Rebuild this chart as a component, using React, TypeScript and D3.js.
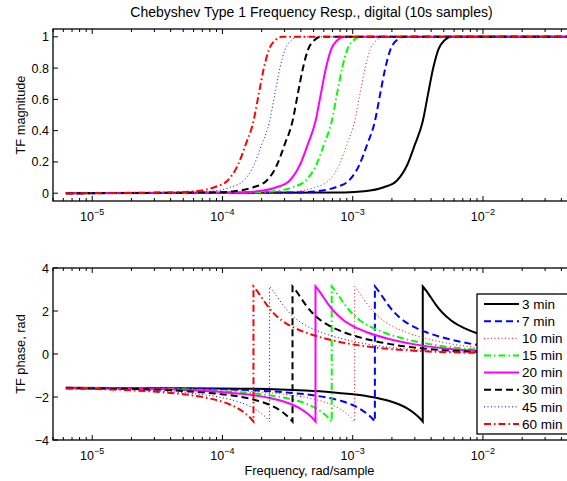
import React from 'react';
import * as d3 from 'd3';

type P = [number, number];

// Legend labels
const seriesNames = ['3 min', '7 min', '10 min', '15 min', '20 min', '30 min', '45 min', '60 min'];

// Magnitude curves: [frequency rad/sample, |H|]
const mag3: P[] = [[6.28e-6, 0], [8.66e-4, 0.005], [1.225e-3, 0.012], [1.73e-3, 0.038], [2.18e-3, 0.08], [2.62e-3, 0.18], [3.0e-3, 0.31], [3.45e-3, 0.46], [3.78e-3, 0.63], [4.15e-3, 0.8], [4.55e-3, 0.92], [5.1e-3, 0.98], [5.73e-3, 1.0], [5e-2, 1.0]];
const mag7: P[] = [[6.28e-6, 0], [3.71e-4, 0.005], [5.25e-4, 0.012], [7.41e-4, 0.038], [9.34e-4, 0.08], [1.123e-3, 0.18], [1.289e-3, 0.31], [1.48e-3, 0.46], [1.622e-3, 0.63], [1.779e-3, 0.8], [1.951e-3, 0.92], [2.19e-3, 0.98], [2.46e-3, 1.0], [5e-2, 1.0]];
const mag10: P[] = [[6.28e-6, 0], [2.6e-4, 0.005], [3.67e-4, 0.012], [5.19e-4, 0.038], [6.53e-4, 0.08], [7.86e-4, 0.18], [9.01e-4, 0.31], [1.035e-3, 0.46], [1.134e-3, 0.63], [1.244e-3, 0.8], [1.364e-3, 0.92], [1.531e-3, 0.98], [1.718e-3, 1.0], [5e-2, 1.0]];
const mag15: P[] = [[6.28e-6, 0], [1.73e-4, 0.005], [2.45e-4, 0.012], [3.46e-4, 0.038], [4.35e-4, 0.08], [5.24e-4, 0.18], [6.01e-4, 0.31], [6.9e-4, 0.46], [7.56e-4, 0.63], [8.29e-4, 0.8], [9.09e-4, 0.92], [1.021e-3, 0.98], [1.145e-3, 1.0], [5e-2, 1.0]];
const mag20: P[] = [[6.28e-6, 0], [1.3e-4, 0.005], [1.84e-4, 0.012], [2.6e-4, 0.038], [3.27e-4, 0.08], [3.93e-4, 0.18], [4.51e-4, 0.31], [5.18e-4, 0.46], [5.68e-4, 0.63], [6.23e-4, 0.8], [6.83e-4, 0.92], [7.66e-4, 0.98], [8.6e-4, 1.0], [5e-2, 1.0]];
const mag30: P[] = [[6.28e-6, 0], [8.66e-5, 0.005], [1.225e-4, 0.012], [1.73e-4, 0.038], [2.18e-4, 0.08], [2.62e-4, 0.18], [3.0e-4, 0.31], [3.45e-4, 0.46], [3.78e-4, 0.63], [4.15e-4, 0.8], [4.55e-4, 0.92], [5.1e-4, 0.98], [5.73e-4, 1.0], [5e-2, 1.0]];
const mag45: P[] = [[6.28e-6, 0], [5.77e-5, 0.005], [8.17e-5, 0.012], [1.152e-4, 0.038], [1.451e-4, 0.08], [1.746e-4, 0.18], [2.0e-4, 0.31], [2.3e-4, 0.46], [2.52e-4, 0.63], [2.76e-4, 0.8], [3.03e-4, 0.92], [3.4e-4, 0.98], [3.82e-4, 1.0], [5e-2, 1.0]];
const mag60: P[] = [[6.28e-6, 0], [4.34e-5, 0.005], [6.14e-5, 0.012], [8.67e-5, 0.038], [1.092e-4, 0.08], [1.313e-4, 0.18], [1.507e-4, 0.31], [1.73e-4, 0.46], [1.896e-4, 0.63], [2.08e-4, 0.8], [2.28e-4, 0.92], [2.56e-4, 0.98], [2.87e-4, 1.0], [5e-2, 1.0]];

// Phase curves (wrapped, rad): [frequency rad/sample, phase]
const ph3: P[] = [[6.28e-6, -1.573], [8.66e-5, -1.6], [2.18e-4, -1.63], [4.34e-4, -1.7], [6.88e-4, -1.78], [1.091e-3, -1.9], [1.541e-3, -2.05], [1.94e-3, -2.2], [2.28e-3, -2.35], [2.62e-3, -2.53], [3.0e-3, -2.78], [3.29e-3, -3.0], [3.45e-3, -3.14],
  [3.45e-3, 3.14], [3.7e-3, 2.91], [3.96e-3, 2.65], [4.34e-3, 2.3], [4.87e-3, 1.93], [5.73e-3, 1.55], [6.88e-3, 1.26], [8.67e-3, 1.0], [1.224e-2, 0.72], [1.94e-2, 0.46], [3.45e-2, 0.26], [5e-2, 0.19]];
const ph7: P[] = [[6.28e-6, -1.575], [3.71e-5, -1.6], [9.34e-5, -1.63], [1.863e-4, -1.7], [2.95e-4, -1.78], [4.68e-4, -1.9], [6.61e-4, -2.05], [8.32e-4, -2.2], [9.78e-4, -2.35], [1.123e-3, -2.53], [1.289e-3, -2.78], [1.413e-3, -3.0], [1.48e-3, -3.14],
  [1.48e-3, 3.14], [1.586e-3, 2.91], [1.699e-3, 2.65], [1.863e-3, 2.3], [2.09e-3, 1.93], [2.46e-3, 1.55], [2.95e-3, 1.26], [3.72e-3, 1.0], [5.25e-3, 0.72], [8.32e-3, 0.46], [1.48e-2, 0.26], [2.95e-2, 0.13], [5e-2, 0.08]];
const ph10: P[] = [[6.28e-6, -1.577], [2.6e-5, -1.6], [6.53e-5, -1.63], [1.303e-4, -1.7], [2.065e-4, -1.78], [3.27e-4, -1.9], [4.62e-4, -2.05], [5.82e-4, -2.2], [6.84e-4, -2.35], [7.85e-4, -2.53], [9.01e-4, -2.78], [9.88e-4, -3.0], [1.035e-3, -3.14],
  [1.035e-3, 3.14], [1.109e-3, 2.91], [1.188e-3, 2.65], [1.303e-3, 2.3], [1.462e-3, 1.93], [1.718e-3, 1.55], [2.065e-3, 1.26], [2.6e-3, 1.0], [3.67e-3, 0.72], [5.82e-3, 0.46], [1.035e-2, 0.26], [2.065e-2, 0.13], [4.12e-2, 0.067], [5e-2, 0.055]];
const ph15: P[] = [[6.28e-6, -1.58], [1.732e-5, -1.6], [4.35e-5, -1.63], [8.69e-5, -1.7], [1.377e-4, -1.78], [2.18e-4, -1.9], [3.08e-4, -2.05], [3.88e-4, -2.2], [4.56e-4, -2.35], [5.23e-4, -2.53], [6.01e-4, -2.78], [6.59e-4, -3.0], [6.9e-4, -3.14],
  [6.9e-4, 3.14], [7.39e-4, 2.91], [7.92e-4, 2.65], [8.69e-4, 2.3], [9.75e-4, 1.93], [1.145e-3, 1.55], [1.377e-3, 1.26], [1.733e-3, 1.0], [2.45e-3, 0.72], [3.88e-3, 0.46], [6.9e-3, 0.26], [1.377e-2, 0.13], [2.75e-2, 0.067], [5e-2, 0.038]];
const ph20: P[] = [[6.28e-6, -1.583], [1.3e-5, -1.6], [3.27e-5, -1.63], [6.52e-5, -1.7], [1.033e-4, -1.78], [1.638e-4, -1.9], [2.31e-4, -2.05], [2.91e-4, -2.2], [3.42e-4, -2.35], [3.93e-4, -2.53], [4.51e-4, -2.78], [4.95e-4, -3.0], [5.18e-4, -3.14],
  [5.18e-4, 3.14], [5.55e-4, 2.91], [5.95e-4, 2.65], [6.52e-4, 2.3], [7.32e-4, 1.93], [8.6e-4, 1.55], [1.033e-3, 1.26], [1.301e-3, 1.0], [1.838e-3, 0.72], [2.91e-3, 0.46], [5.18e-3, 0.26], [1.033e-2, 0.13], [2.06e-2, 0.067], [5e-2, 0.028]];
const ph30: P[] = [[6.28e-6, -1.589], [8.66e-6, -1.6], [2.18e-5, -1.63], [4.34e-5, -1.7], [6.88e-5, -1.78], [1.091e-4, -1.9], [1.541e-4, -2.05], [1.94e-4, -2.2], [2.28e-4, -2.35], [2.62e-4, -2.53], [3.0e-4, -2.78], [3.29e-4, -3.0], [3.45e-4, -3.14],
  [3.45e-4, 3.14], [3.7e-4, 2.91], [3.96e-4, 2.65], [4.34e-4, 2.3], [4.87e-4, 1.93], [5.73e-4, 1.55], [6.88e-4, 1.26], [8.67e-4, 1.0], [1.224e-3, 0.72], [1.94e-3, 0.46], [3.45e-3, 0.26], [6.88e-3, 0.13], [1.373e-2, 0.067], [3.45e-2, 0.027], [5e-2, 0.018]];
const ph45: P[] = [[6.28e-6, -1.598], [1.451e-5, -1.63], [2.9e-5, -1.7], [4.59e-5, -1.78], [7.27e-5, -1.9], [1.027e-4, -2.05], [1.293e-4, -2.2], [1.52e-4, -2.35], [1.745e-4, -2.53], [2.0e-4, -2.78], [2.2e-4, -3.0], [2.3e-4, -3.14],
  [2.3e-4, 3.14], [2.46e-4, 2.91], [2.64e-4, 2.65], [2.9e-4, 2.3], [3.25e-4, 1.93], [3.82e-4, 1.55], [4.59e-4, 1.26], [5.78e-4, 1.0], [8.16e-4, 0.72], [1.293e-3, 0.46], [2.3e-3, 0.26], [4.59e-3, 0.13], [9.15e-3, 0.067], [2.3e-2, 0.027], [5e-2, 0.012]];
const ph60: P[] = [[6.28e-6, -1.607], [1.092e-5, -1.63], [2.18e-5, -1.7], [3.45e-5, -1.78], [5.47e-5, -1.9], [7.73e-5, -2.05], [9.73e-5, -2.2], [1.143e-4, -2.35], [1.312e-4, -2.53], [1.507e-4, -2.78], [1.652e-4, -3.0], [1.73e-4, -3.14],
  [1.73e-4, 3.14], [1.854e-4, 2.91], [1.986e-4, 2.65], [2.18e-4, 2.3], [2.44e-4, 1.93], [2.87e-4, 1.55], [3.45e-4, 1.26], [4.35e-4, 1.0], [6.14e-4, 0.72], [9.73e-4, 0.46], [1.73e-3, 0.26], [3.45e-3, 0.13], [6.89e-3, 0.067], [1.73e-2, 0.027], [5e-2, 0.009]];

const magSeries = [mag3, mag7, mag10, mag15, mag20, mag30, mag45, mag60];
const phaseSeries = [ph3, ph7, ph10, ph15, ph20, ph30, ph45, ph60];

// Axis ticks
const xDomain: [number, number] = [5e-6, 5e-2];
const magTicks = [0, 0.2, 0.4, 0.6, 0.8, 1];
const magTickLabels = ['0', '0.2', '0.4', '0.6', '0.8', '1'];
const phaseTicks = [-4, -2, 0, 2, 4];
const phaseTickLabels = ['\u22124', '\u22122', '0', '2', '4'];

const styles = [
  { color: '#000000', dash: 'none', width: 2 },
  { color: '#0000ff', dash: '7,4', width: 2 },
  { color: '#ff0000', dash: '1,2.5', width: 1 },
  { color: '#00ff00', dash: '7,3,1.5,3', width: 2 },
  { color: '#ff00ff', dash: 'none', width: 2 },
  { color: '#000000', dash: '7,4', width: 2 },
  { color: '#0000ff', dash: '1,2.5', width: 1 },
  { color: '#ff0000', dash: '7,3,1.5,3', width: 2 },
];

const FONT = 'Liberation Sans, Arial, Helvetica, sans-serif';
const L = 53, R = 574;

function Axes(props: { top: number; bottom: number; y: d3.ScaleLinear<number, number>; ticks: number[]; labels: string[]; x: d3.ScaleLogarithmic<number, number>; }) {
  const { top, bottom, y, ticks, labels, x } = props;
  const xt = x.ticks();
  return (
    <g>
      <rect x={L} y={top} width={R - L} height={bottom - top} fill="none" stroke="#000" strokeWidth={1.3} />
      {xt.map((t, i) => {
        const major = Math.abs(Math.log10(t) - Math.round(Math.log10(t))) < 1e-9;
        const len = major ? 5 : 3;
        const px = x(t);
        return (
          <g key={i}>
            <line x1={px} x2={px} y1={bottom} y2={bottom - len} stroke="#000" strokeWidth={1} />
            <line x1={px} x2={px} y1={top} y2={top + len} stroke="#000" strokeWidth={1} />
            {major && (
              <text x={px} y={bottom + 20} textAnchor="middle" fontFamily={FONT} fontSize={12.5} fill="#000">
                10<tspan dy={-6} fontSize={9}>{'\u2212' + Math.abs(Math.round(Math.log10(t)))}</tspan>
              </text>
            )}
          </g>
        );
      })}
      {ticks.map((t, i) => (
        <g key={'y' + i}>
          <line x1={L} x2={L + 5} y1={y(t)} y2={y(t)} stroke="#000" strokeWidth={1} />
          <line x1={R} x2={R - 5} y1={y(t)} y2={y(t)} stroke="#000" strokeWidth={1} />
          <text x={L - 4} y={y(t) + 4.5} textAnchor="end" fontFamily={FONT} fontSize={12.5} fill="#000">{labels[i]}</text>
        </g>
      ))}
    </g>
  );
}

export default function App() {
  const W = 567, H = 481;
  const x = d3.scaleLog().domain(xDomain).range([L, R]);
  const yMag = d3.scaleLinear().domain([-0.05, 1.05]).range([201, 29]);
  const yPh = d3.scaleLinear().domain([-4, 4]).range([440, 268]);

  const magLine = d3.line<P>().x(d => x(d[0])).y(d => yMag(d[1])).curve(d3.curveMonotoneX);
  const phLine = d3.line<P>().x(d => x(d[0])).y(d => yPh(d[1])).curve(d3.curveMonotoneX);
  const phasePath = (data: P[]) => {
    const k = data.findIndex((d, i) => i > 0 && Math.abs(d[1] - data[i - 1][1]) > 3);
    const a = phLine(data.slice(0, k)) || '';
    const b = (phLine(data.slice(k)) || '').replace(/^M/, 'L');
    return a + b;
  };

  const legX = 477, legY = 294, legW = 96, legH = 140;

  return (
    <svg width={W} height={H} style={{ position: 'absolute', left: 0, top: 0, background: '#fff' }}>
      <rect x={0} y={0} width={W} height={H} fill="#fff" />
      <defs>
        <clipPath id="c1"><rect x={L} y={29} width={R - L} height={172} /></clipPath>
        <clipPath id="c2"><rect x={L} y={268} width={R - L} height={172} /></clipPath>
      </defs>
      <text x={(L + R) / 2 - 2} y={17} textAnchor="middle" fontFamily={FONT} fontSize={14} fill="#000">
        Chebyshev Type 1 Frequency Resp., digital (10s samples)
      </text>
      <g clipPath="url(#c1)">
        {magSeries.map((s, i) => (
          <path key={i} d={magLine(s) || ''} fill="none" stroke={styles[i].color} strokeWidth={styles[i].width}
            strokeDasharray={styles[i].dash} />
        ))}
      </g>
      <Axes top={29} bottom={201} y={yMag} ticks={magTicks} labels={magTickLabels} x={x} />
      <text transform={`translate(25,115) rotate(-90)`} textAnchor="middle" fontFamily={FONT} fontSize={12.8} fill="#000">TF magnitude</text>

      <g clipPath="url(#c2)">
        {phaseSeries.map((s, i) => (
          <path key={i} d={phasePath(s)} fill="none" stroke={styles[i].color} strokeWidth={styles[i].width}
            strokeDasharray={styles[i].dash} />
        ))}
      </g>
      <Axes top={268} bottom={440} y={yPh} ticks={phaseTicks} labels={phaseTickLabels} x={x} />
      <text transform={`translate(25,354) rotate(-90)`} textAnchor="middle" fontFamily={FONT} fontSize={12.8} fill="#000">TF phase, rad</text>
      <text x={(L + R) / 2 - 4} y={475} textAnchor="middle" fontFamily={FONT} fontSize={12.8} fill="#000">Frequency, rad/sample</text>

      <g>
        <rect x={legX} y={legY} width={legW} height={legH} fill="#fff" stroke="#000" strokeWidth={1.3} />
        {seriesNames.map((n, i) => {
          const yy = legY + 10 + i * 17.14;
          return (
            <g key={i}>
              <line x1={484} x2={519} y1={yy} y2={yy} stroke={styles[i].color} strokeWidth={styles[i].width} strokeDasharray={styles[i].dash} />
              <text x={522} y={yy + 4.7} fontFamily={FONT} fontSize={13.5} fill="#000">{n}</text>
            </g>
          );
        })}
      </g>
    </svg>
  );
}
